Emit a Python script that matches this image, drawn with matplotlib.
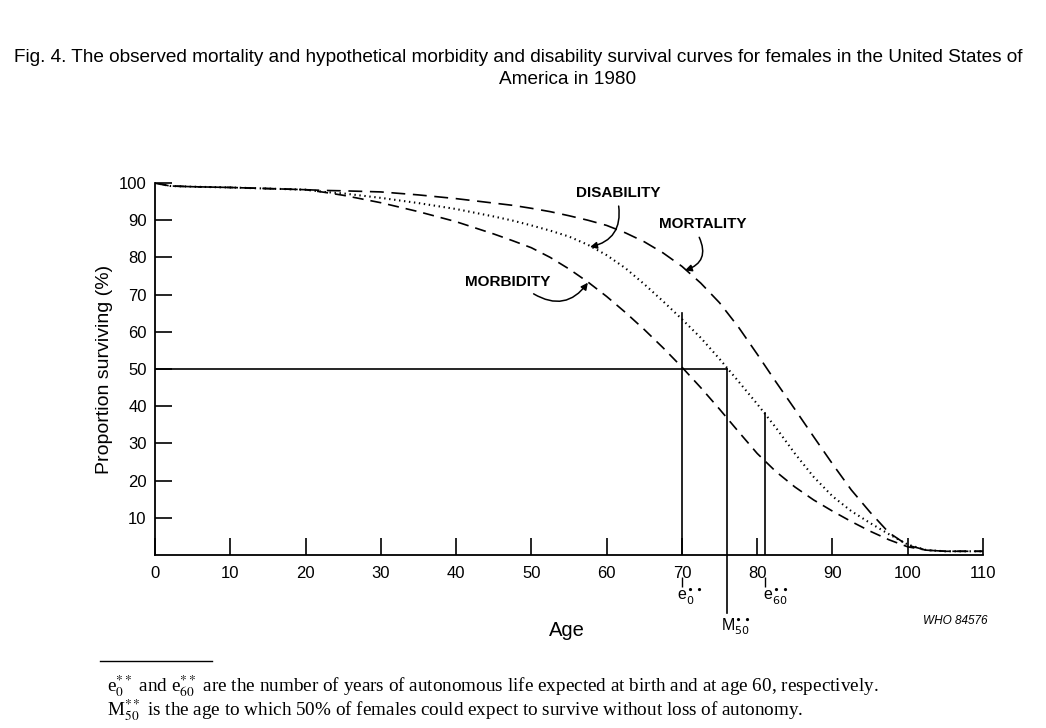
import numpy as np
import matplotlib
matplotlib.use('Agg')
import matplotlib.pyplot as plt
from matplotlib.lines import Line2D

plt.rcParams['font.family'] = ['Liberation Sans', 'DejaVu Sans']
plt.rcParams['lines.scale_dashes'] = False

# survival curves (age, % surviving)
ages = [0, 2, 5, 10, 15, 20, 22.5, 25, 30, 35, 40, 45, 47.5, 50, 52.5, 55, 57.5, 60, 62.5, 65,
        67.5, 70, 72.5, 75, 77.5, 80, 82.5, 85, 87.5, 90, 92.5, 95, 97.5, 100, 102.5, 105, 110]
mortality = [100, 99.2, 99.0, 98.8, 98.5, 98.2, 98.0, 97.9, 97.6, 96.8, 95.8, 94.6, 94.0, 93.2,
             92.3, 91.2, 90.0, 88.6, 86.6, 84.2, 81.2, 77.6, 73.1, 67.8, 61.3, 54.0, 46.5,
             39.2, 31.8, 24.5, 17.5, 11.5, 6.0, 2.6, 1.3, 1.0, 1.0]
disability = [100, 99.2, 99.0, 98.8, 98.5, 98.2, 97.6, 97.2, 96.0, 94.6, 93.0, 91.0, 89.9, 88.6,
              87.2, 85.6, 83.4, 80.6, 77.1, 72.8, 68.2, 63.4, 58.4, 52.7, 46.7, 40.6, 34.2,
              27.3, 21.0, 15.8, 11.8, 8.6, 5.6, 2.8, 1.3, 1.0, 1.0]
morbidity = [100, 99.2, 99.0, 98.8, 98.5, 98.2, 97.5, 96.7, 94.7, 92.3, 89.6, 86.3, 84.5, 82.6,
             80.0, 76.9, 73.4, 69.5, 65.2, 60.6, 55.7, 50.5, 45.0, 39.2, 33.2, 27.3, 22.4,
             18.3, 14.8, 11.8, 9.0, 6.4, 4.1, 2.2, 1.3, 1.0, 1.0]

e0_age = 70
e0_top = 65
m50_age = 76.0
e60_age = 81.0
m50_low = -15.6

xticks = list(range(0, 111, 10))
xlabels = [str(v) for v in xticks]
yticks = list(range(10, 101, 10))

fig = plt.figure(figsize=(10.46, 7.28), dpi=100)
ax = fig.add_axes([155 / 1046, 173 / 728, 828 / 1046, 372 / 728])
ax.set_xlim(0, 110)
ax.set_ylim(0, 100)

ax.plot(ages, mortality, color='k', lw=1.2, linestyle=(0, (10, 5.5)))
ax.plot(ages, disability, color='k', lw=1.5, linestyle=(0, (1.0, 2.6)))
ax.plot(ages, morbidity, color='k', lw=1.2, linestyle=(0, (8, 5)))

# reference lines
ax.plot([0, m50_age], [50, 50], color='k', lw=1.2)
ax.plot([e0_age, e0_age], [0, e0_top], color='k', lw=1.2)
ax.plot([m50_age, m50_age], [m50_low, 50], color='k', lw=1.2, clip_on=False)
e60_top = np.interp(e60_age, ages, disability)
ax.plot([e60_age, e60_age], [0, e60_top], color='k', lw=1.2)
# little bars under the 70 and 80 labels
ax.vlines([e0_age, e60_age], -8.5, -6.0, color='k', lw=1.0, clip_on=False)

for s in ['top', 'right']:
    ax.spines[s].set_visible(False)
for s in ['left', 'bottom']:
    ax.spines[s].set_linewidth(1.3)

ax.set_xticks(xticks)
ax.set_xticklabels(xlabels, fontsize=12)
ax.set_yticks(yticks)
ax.set_yticklabels([str(v) for v in yticks], fontsize=12)
ax.tick_params(axis='both', direction='in', length=12, width=1.2, color='k')
ax.tick_params(axis='x', pad=8)
ax.tick_params(axis='y', pad=6)
ax.set_ylabel('Proportion surviving (%)', fontsize=14, labelpad=4)

# curve names with curved arrows
arr = dict(arrowstyle='-|>', color='k', lw=1.1, mutation_scale=10, shrinkA=0, shrinkB=0)
ax.text(61.5, 97.3, 'DISABILITY', fontsize=11, fontweight='bold', ha='center', va='center')
ax.annotate('', xy=(57.8, 82.8), xytext=(61.6, 93.8),
            arrowprops=dict(arr, connectionstyle='arc3,rad=-0.45'))
ax.text(72.8, 89.0, 'MORTALITY', fontsize=11, fontweight='bold', ha='center', va='center')
ax.annotate('', xy=(70.4, 76.5), xytext=(72.3, 85.4),
            arrowprops=dict(arr, connectionstyle='arc3,rad=-0.55'))
ax.text(46.8, 73.4, 'MORBIDITY', fontsize=11, fontweight='bold', ha='center', va='center')
ax.annotate('', xy=(57.5, 73.2), xytext=(50.3, 70.2),
            arrowprops=dict(arr, connectionstyle='arc3,rad=0.45'))

# markers below the axis
ax.text(69.3, -11.3, r'e$_{0}^{\bullet\bullet}$', ha='left', va='center', fontsize=11.5,
        math_fontfamily='dejavusans', clip_on=False)
ax.text(80.8, -11.3, r'e$_{60}^{\bullet\bullet}$', ha='left', va='center', fontsize=11.5,
        math_fontfamily='dejavusans', clip_on=False)
ax.text(75.2, -19.3, r'M$_{50}^{\bullet\bullet}$', ha='left', va='center', fontsize=11.5,
        math_fontfamily='dejavusans', clip_on=False)
ax.text(54.7, -20.2, 'Age', ha='center', va='center', fontsize=14.5, clip_on=False)
ax.text(106.3, -17.8, 'WHO 84576', ha='center', va='center', fontsize=8.5,
        style='italic', clip_on=False)

# title
fig.text(518 / 1046, 1 - 58 / 728,
         'Fig. 4. The observed mortality and hypothetical morbidity and disability survival '
         'curves for females in the United States of', ha='center', va='center', fontsize=13.7)
fig.text(568 / 1046, 1 - 80 / 728, 'America in 1980', ha='center', va='center', fontsize=13.7)

# footnote
fig.add_artist(Line2D([100 / 1046, 212 / 1046], [1 - 661 / 728, 1 - 661 / 728],
                      color='k', lw=1.0))
footnote = (r'e$_{0}^{**}$ and e$_{60}^{**}$ are the number of years of autonomous life '
            'expected at birth and at age 60, respectively.\n'
            r'M$_{50}^{**}$ is the age to which 50% of females could expect to survive '
            'without loss of autonomy.')
fig.text(107 / 1046, 1 - 698 / 728, footnote, ha='left', va='center', fontsize=13.8,
         family='Liberation Serif', math_fontfamily='stix', linespacing=0.95)

fig.savefig('out.png', dpi=100)
